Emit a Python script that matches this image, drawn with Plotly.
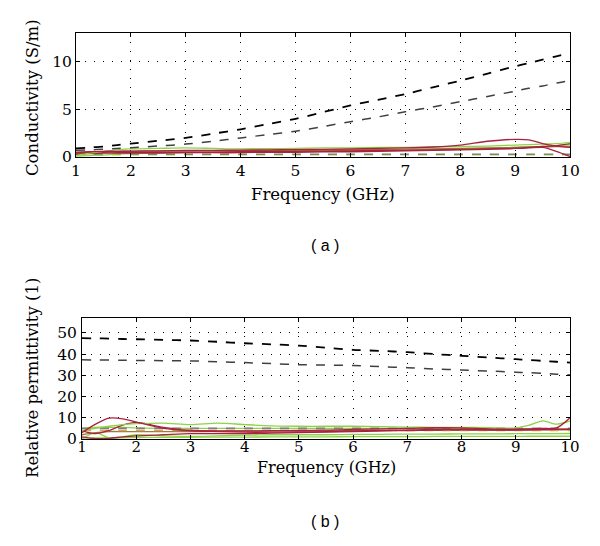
import plotly.graph_objects as go

# ---------------- data ----------------
freq = [1, 1.25, 1.5, 1.75, 2, 2.5, 3, 3.5, 4, 4.5, 5, 5.5, 6, 6.5, 7, 7.5, 8, 8.5, 9, 9.25, 9.5, 9.75, 10]

# (a) conductivity (S/m)
cond_ref_high = [0.9, 1.0, 1.1, 1.25, 1.4, 1.7, 2.0, 2.45, 2.9, 3.45, 4.0, 4.7, 5.4, 6.0, 6.6, 7.3, 8.0, 8.75, 9.5, 9.85, 10.2, 10.55, 10.9]
cond_ref_low = [0.7, 0.75, 0.82, 0.9, 0.97, 1.15, 1.35, 1.65, 2.0, 2.35, 2.7, 3.2, 3.7, 4.2, 4.75, 5.25, 5.8, 6.35, 6.9, 7.2, 7.45, 7.75, 8.0]
cond_red1 = [0.5, 0.55, 0.6, 0.6, 0.62, 0.65, 0.68, 0.7, 0.72, 0.75, 0.78, 0.8, 0.85, 0.9, 0.95, 1.05, 1.25, 1.65, 1.85, 1.8, 1.4, 1.15, 1.0]
cond_red2 = [0.4, 0.45, 0.5, 0.5, 0.5, 0.5, 0.5, 0.52, 0.55, 0.58, 0.6, 0.62, 0.65, 0.68, 0.7, 0.75, 0.8, 0.85, 0.9, 0.95, 1.0, 0.6, 0.05]
cond_red3 = [0.3, 0.35, 0.4, 0.4, 0.4, 0.42, 0.45, 0.45, 0.45, 0.5, 0.5, 0.55, 0.55, 0.6, 0.65, 0.7, 0.75, 0.8, 0.9, 1.0, 1.1, 1.2, 1.4]
cond_green1 = [0.15, 0.4, 0.6, 0.75, 0.85, 0.9, 0.95, 0.9, 0.85, 0.88, 0.9, 0.95, 0.95, 1.0, 1.0, 1.05, 1.1, 1.15, 1.25, 1.3, 1.35, 1.4, 1.5]
cond_green2 = [0.1, 0.15, 0.2, 0.3, 0.35, 0.4, 0.45, 0.5, 0.55, 0.6, 0.62, 0.65, 0.7, 0.72, 0.75, 0.8, 0.85, 0.9, 1.0, 1.05, 1.1, 1.2, 1.3]
cond_olive = [0.45, 0.5, 0.55, 0.6, 0.6, 0.62, 0.65, 0.65, 0.68, 0.7, 0.72, 0.75, 0.78, 0.8, 0.82, 0.85, 0.9, 0.95, 1.0, 1.05, 1.05, 1.1, 1.1]
cond_grey = [0.3] * 23
cond_lightgreen = [0.22] * 23

# (b) relative permittivity (1)
perm_ref_high = [47.5, 47.4, 47.3, 47.1, 47.0, 46.7, 46.4, 45.8, 45.1, 44.6, 44.0, 43.0, 42.0, 41.5, 40.9, 40.0, 39.2, 38.4, 37.6, 37.2, 36.8, 36.4, 36.0]
perm_ref_low = [37.3, 37.25, 37.2, 37.1, 37.0, 36.9, 36.8, 36.4, 36.0, 35.5, 35.0, 34.8, 34.6, 34.1, 33.6, 33.0, 32.5, 32.0, 31.5, 31.2, 30.9, 30.5, 30.2]
perm_red1 = [3, 7, 9.8, 9.5, 8, 5, 4, 3.8, 3.8, 3.9, 4, 4.2, 4.5, 4.8, 5, 5.3, 5.2, 4.8, 4.6, 4.8, 5, 5.2, 10]
perm_red2 = [4, 2.5, 4, 6.5, 7.8, 5.5, 4, 3.5, 3.2, 3.2, 3.3, 3.5, 3.8, 4, 4.2, 4.5, 4.5, 4.3, 4.2, 4.3, 4.4, 4.5, 4.5]
perm_red3 = [1, 0.2, 0.3, 1, 1.5, 2, 2.5, 2.5, 2.5, 2.8, 3, 3.2, 3.5, 3.8, 4, 4.2, 4.3, 4.3, 4.4, 4.5, 4.5, 4.5, 4.6]
perm_green1 = [4, 5, 6, 6.8, 7.2, 7.5, 6.8, 7.5, 6.8, 6.2, 6, 6, 6, 5.8, 5.6, 5.5, 5.5, 5.3, 5.2, 6.5, 8.5, 7, 8.5]
perm_green2 = [0, 3, 0.5, 1, 2, 1.5, 1.2, 1.5, 1.8, 2, 2, 2, 2.2, 2.2, 2.3, 2.3, 2.4, 2.4, 2.5, 2.5, 2.5, 2.5, 2.6]
perm_green3 = [5, 5.5, 5.5, 5.5, 5.2, 5, 5, 5, 5, 5, 5, 5, 5, 5, 5, 5, 4.8, 4.8, 4.6, 4.6, 4.6, 4.6, 4.7]
perm_green4 = [0.5, 0.5, 0.6, 0.6, 0.7, 0.8, 0.8, 0.9, 0.9, 1.0, 1.0, 1.0, 1.1, 1.1, 1.1, 1.2, 1.2, 1.2, 1.2, 1.3, 1.3, 1.3, 1.3]
perm_olive = [2, 3, 3.5, 3.5, 3.5, 3.5, 3.5, 3.6, 3.7, 3.8, 3.8, 3.9, 4, 4, 4.1, 4.1, 4.1, 4.2, 4.2, 4.2, 4.3, 4.3, 4.3]
perm_grey = [5.0] * 23
perm_orange = [4.0] * 23

x_ticks = [1, 2, 3, 4, 5, 6, 7, 8, 9, 10]
cond_ticks = [0, 5, 10]
perm_ticks = [0, 10, 20, 30, 40, 50]

RED = "#a8233f"
GREEN = "#8fd14a"
LGREEN = "#c3e86a"
OLIVE = "#9a7a3a"
GREY = "#808080"
ORANGE = "#d9a05a"

fig = go.Figure()


def add(x, y, color, width=1.3, dash="solid", xa="x", ya="y"):
    fig.add_trace(go.Scatter(x=x, y=y, mode="lines", xaxis=xa, yaxis=ya,
                             line=dict(color=color, width=width, dash=dash, shape="spline", smoothing=0.8),
                             showlegend=False, hoverinfo="skip"))


# panel (a)
add(freq, cond_lightgreen, LGREEN, 1.5, "dash")
add(freq, cond_grey, GREY, 1.5, "dash")
add(freq, cond_green2, GREEN)
add(freq, cond_olive, OLIVE)
add(freq, cond_red3, RED)
add(freq, cond_red2, RED)
add(freq, cond_green1, GREEN)
add(freq, cond_red1, RED)
add(freq, cond_ref_low, "#404040", 1.5, "dash")
add(freq, cond_ref_high, "#000000", 1.8, "dash")

# panel (b)
add(freq, perm_green4, GREEN, xa="x2", ya="y2")
add(freq, perm_green2, GREEN, xa="x2", ya="y2")
add(freq, perm_olive, OLIVE, xa="x2", ya="y2")
add(freq, perm_orange, ORANGE, 1.5, "dash", xa="x2", ya="y2")
add(freq, perm_green3, GREEN, xa="x2", ya="y2")
add(freq, perm_grey, GREY, 1.8, "dash", xa="x2", ya="y2")
add(freq, perm_red3, RED, xa="x2", ya="y2")
add(freq, perm_red2, RED, xa="x2", ya="y2")
add(freq, perm_green1, GREEN, xa="x2", ya="y2")
add(freq, perm_red1, RED, xa="x2", ya="y2")
add(freq, perm_ref_low, "#404040", 1.5, "dash", xa="x2", ya="y2")
add(freq, perm_ref_high, "#000000", 1.8, "dash", xa="x2", ya="y2")

W, H = 600, 546
SERIF = "DejaVu Serif, Liberation Serif, serif"


def px(xp):
    return xp / W


def py(yp):
    return 1 - yp / H


axis_common = dict(showline=True, mirror="ticks", linecolor="black", linewidth=1,
                   ticks="inside", ticklen=4, tickcolor="black",
                   showgrid=True, gridcolor="black", gridwidth=1, griddash="1px,8px",
                   zeroline=False, automargin=False)
tf = dict(family=SERIF, size=15.5, color="black")
tf2 = dict(family=SERIF, size=15, color="black")

fig.update_layout(
    width=W, height=H, margin=dict(l=0, r=0, t=0, b=0, autoexpand=False),
    paper_bgcolor="white", plot_bgcolor="white",
    xaxis=dict(domain=[px(76), px(570)], anchor="y", range=[1, 10], tickvals=x_ticks,
               ticklabelstandoff=-1, tickfont=tf, **axis_common),
    yaxis=dict(domain=[py(157), py(33)], anchor="x", range=[0, 13], tickvals=cond_ticks,
               ticklabelstandoff=0, tickfont=tf, **axis_common),
    xaxis2=dict(domain=[px(82), px(570)], anchor="y2", range=[1, 10], tickvals=x_ticks,
                ticklabelstandoff=-6, tickfont=tf2, **axis_common),
    yaxis2=dict(domain=[py(439), py(318)], anchor="x2", range=[0, 57], tickvals=perm_ticks,
                ticklabelstandoff=1, tickfont=tf, **axis_common),
)


def ann(text, xp, yp, size=16.5, angle=0, family=SERIF):
    fig.add_annotation(text=text, x=px(xp), y=py(yp), xref="paper", yref="paper",
                       showarrow=False, textangle=angle, xanchor="center", yanchor="middle",
                       font=dict(family=family, size=size, color="black"))


ann("Frequency (GHz)", 323, 194)
ann("Frequency (GHz)", 326, 467, size=16)
ann("Conductivity (S/m)", 32, 98, angle=-90)
ann("Relative permittivity (1)", 32, 378, angle=-90)
ann("( a )", 325, 246, size=16, family="Liberation Sans, Arial, sans-serif")
ann("( b )", 325, 521, size=16, family="Liberation Sans, Arial, sans-serif")

# remove the default page margin so the figure sits at the window's top-left corner
fig.write_html("out.html", config={"displayModeBar": False},
               post_script="document.body.style.margin='0px';")
